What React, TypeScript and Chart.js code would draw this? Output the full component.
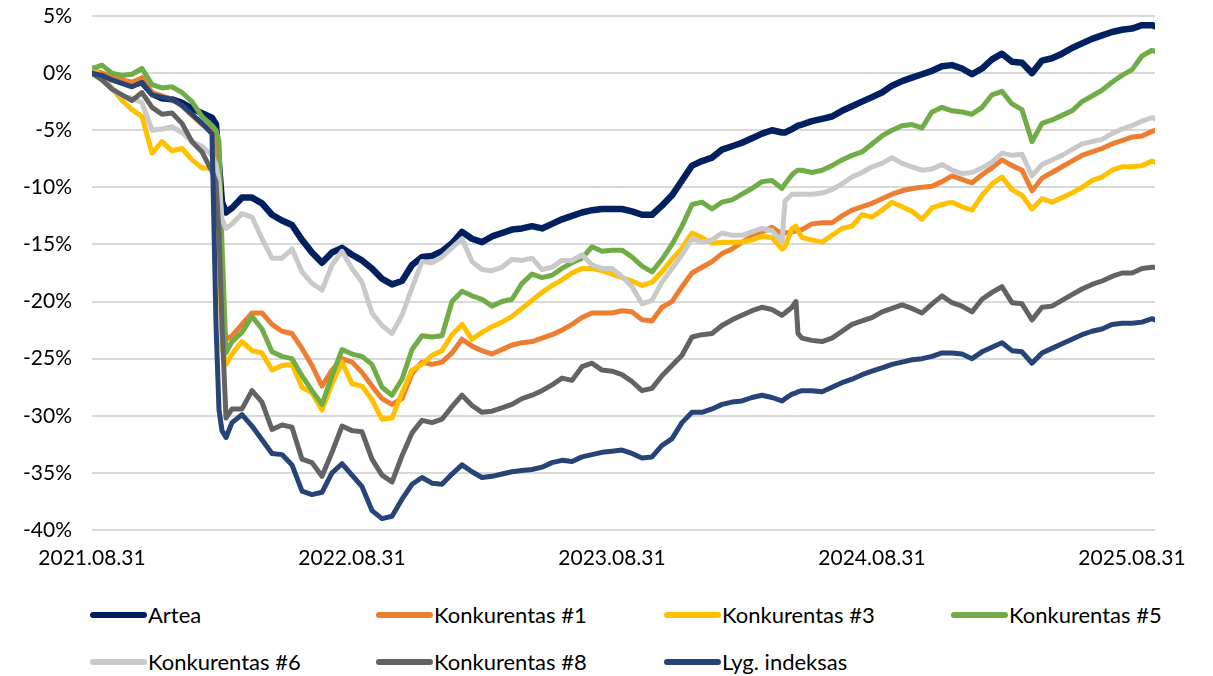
import React, { useEffect, useRef } from 'react';
import { Chart, registerables } from 'chart.js';

Chart.register(...registerables);

// trading-day index from 2021.08.31
const DAYS = [
  0, 10, 20, 30, 40, 50, 60, 70, 80, 90, 100, 110, 120, 124, 127, 130, 134,
  140, 150, 160, 170, 180, 190, 200, 210, 220, 230, 240, 250, 260, 270, 280, 290,
  300, 310, 320, 330, 340, 350, 360, 370, 380, 390, 400, 410, 420, 430, 440, 450,
  460, 470, 480, 490, 500, 510, 520, 530, 540, 550, 560, 570, 580, 590, 600, 610,
  620, 630, 640, 650, 660, 670, 680, 690, 693, 700, 704, 706, 710, 720, 730, 740,
  750, 760, 770, 780, 790, 800, 810, 820, 830, 840, 850, 860, 870, 880, 890, 900,
  910, 920, 930, 940, 950, 960, 970, 980, 990, 1000, 1010, 1020, 1030, 1040, 1050,
  1060, 1063,
];

const X_TICKS = [0, 260, 520, 780, 1040];
const X_TICK_LABELS = ['2021.08.31', '2022.08.31', '2023.08.31', '2024.08.31', '2025.08.31'];
const Y_MIN = -40;
const Y_MAX = 5;
const Y_STEP = 5;

const SERIES_NAMES = [
  'Artea',
  'Konkurentas #1',
  'Konkurentas #3',
  'Konkurentas #5',
  'Konkurentas #6',
  'Konkurentas #8',
  'Lyg. indeksas',
];

const ARTEA = [
  0, -0.2, -0.5, -0.8, -1.0, -0.8, -1.8, -2.2, -2.3, -2.6, -3.1, -3.5, -3.9, -4.5, -8.0, -11.3, -12.2,
  -11.8, -10.9, -10.9, -11.4, -12.4, -12.9, -13.3, -14.6, -15.7, -16.6, -15.7, -15.3, -15.9, -16.4, -17.1, -18.0,
  -18.5, -18.2, -16.8, -16.1, -16.0, -15.6, -14.9, -13.9, -14.5, -14.8, -14.3, -14.0, -13.7, -13.6, -13.4, -13.6,
  -13.2, -12.8, -12.5, -12.2, -12.0, -11.9, -11.9, -11.9, -12.1, -12.4, -12.4, -11.6, -10.7, -9.4, -8.1, -7.7,
  -7.4, -6.7, -6.4, -6.1, -5.7, -5.3, -5.0, -5.2, -5.2, -4.9, -4.7, -4.6, -4.5, -4.2, -4.0, -3.8,
  -3.3, -2.9, -2.5, -2.1, -1.7, -1.1, -0.7, -0.4, -0.1, 0.2, 0.6, 0.7, 0.4, -0.1, 0.4, 1.2,
  1.7, 1.0, 0.9, 0.0, 1.1, 1.3, 1.7, 2.2, 2.6, 3.0, 3.3, 3.6, 3.8, 3.9, 4.2,
  4.2, 4.1,
];

const KONK_1 = [
  0.3, 0.0, -0.3, -0.6, -0.8, -0.4, -1.7, -2.0, -2.3, -2.9, -3.7, -4.5, -5.0, -5.5, -10.0, -22.0, -23.3,
  -23.0, -22.0, -21.0, -21.0, -22.0, -22.6, -22.8, -24.1, -25.6, -27.4, -26.0, -25.0, -25.3, -26.2, -27.4, -28.5,
  -29.0, -28.5, -26.3, -25.3, -25.5, -25.3, -24.5, -23.3, -23.9, -24.3, -24.6, -24.2, -23.8, -23.6, -23.5, -23.2,
  -22.9, -22.5, -22.0, -21.4, -21.0, -21.0, -21.0, -20.8, -20.9, -21.6, -21.7, -20.5, -20.0, -18.7, -17.5, -17.0,
  -16.5, -15.8, -15.4, -14.8, -14.3, -13.9, -13.5, -14.1, -14.0, -13.9, -13.8, -13.8, -13.7, -13.2, -13.1, -13.1,
  -12.5, -12.0, -11.7, -11.4, -11.0, -10.6, -10.3, -10.1, -10.0, -9.9, -9.5, -9.0, -9.3, -9.6, -8.9, -8.3,
  -7.6, -8.1, -8.5, -10.3, -9.2, -8.7, -8.2, -7.7, -7.2, -6.9, -6.6, -6.2, -5.9, -5.6, -5.5,
  -5.1, -5.0,
];

const KONK_3 = [
  0.5, -0.3, -1.3, -2.4, -3.2, -3.8, -7.0, -6.0, -6.8, -6.6, -7.6, -8.3, -8.3, -9.0, -14.0, -24.0, -25.5,
  -24.6, -23.5, -24.3, -24.5, -26.0, -25.6, -25.5, -27.5, -28.0, -29.5, -27.2, -25.3, -27.2, -27.4, -28.6, -30.3,
  -30.2, -28.0, -26.0, -25.5, -24.7, -24.3, -22.9, -22.0, -23.3, -22.7, -22.2, -21.8, -21.3, -20.6, -19.9, -19.2,
  -18.6, -18.1, -17.5, -17.1, -17.1, -17.3, -17.6, -17.9, -18.2, -18.6, -18.3, -17.4, -16.3, -15.3, -14.0, -14.4,
  -14.9, -14.8, -14.8, -14.8, -14.6, -14.3, -14.4, -15.4, -15.2, -13.6, -13.4, -13.8, -14.4, -14.6, -14.8, -14.2,
  -13.6, -13.4, -12.4, -12.6, -12.0, -11.3, -11.7, -12.1, -12.8, -11.8, -11.5, -11.3, -11.7, -12.0, -10.7, -9.7,
  -9.1, -10.2, -10.7, -11.9, -11.0, -11.3, -10.9, -10.5, -10.0, -9.4, -9.1, -8.5, -8.2, -8.2, -8.1,
  -7.7, -7.8,
];

const KONK_5 = [
  0.4, 0.7, 0.0, -0.2, -0.1, 0.4, -1.0, -1.3, -1.2, -1.7, -2.5, -3.8, -4.6, -5.0, -6.0, -15.0, -24.5,
  -23.5, -22.7, -21.3, -22.4, -24.4, -24.8, -25.0, -26.5, -27.8, -29.0, -26.5, -24.2, -24.6, -24.8, -25.5, -27.5,
  -28.2, -26.8, -24.2, -23.0, -23.1, -23.0, -20.0, -19.1, -19.5, -19.8, -20.4, -20.0, -19.8, -18.4, -17.6, -17.9,
  -17.7, -17.1, -16.6, -16.2, -15.2, -15.6, -15.5, -15.5, -16.1, -16.9, -17.4, -16.3, -15.0, -13.4, -11.5, -11.3,
  -11.9, -11.3, -11.1, -10.6, -10.1, -9.5, -9.4, -10.1, -9.7, -8.9, -8.6, -8.5, -8.5, -8.7, -8.5, -8.1,
  -7.6, -7.2, -6.9, -6.2, -5.5, -5.0, -4.6, -4.5, -4.8, -3.4, -3.0, -3.3, -3.4, -3.6, -3.0, -1.9,
  -1.6, -2.7, -3.2, -6.0, -4.4, -4.1, -3.7, -3.3, -2.5, -2.0, -1.5, -0.8, -0.2, 0.3, 1.5,
  2.0, 1.9,
];

const KONK_6 = [
  0.1, -0.4, -1.4, -2.0, -2.2, -2.6, -5.0, -4.9, -4.7, -5.2, -6.0, -6.4, -7.2, -8.0, -9.5, -12.8, -13.6,
  -13.2, -12.3, -12.6, -14.5, -16.2, -16.2, -15.4, -17.4, -18.4, -19.0, -16.8, -15.6, -17.1, -18.3, -21.0, -22.1,
  -22.8, -21.2, -18.8, -16.5, -16.6, -16.1, -15.3, -14.5, -16.5, -17.2, -17.3, -17.0, -16.3, -16.4, -16.2, -17.2,
  -17.0, -16.4, -16.4, -15.9, -16.8, -17.1, -17.1, -17.8, -18.7, -20.2, -19.9, -18.3, -17.1, -15.9, -14.5, -14.8,
  -14.6, -14.0, -14.2, -14.2, -13.9, -13.6, -13.8, -14.8, -11.2, -10.6, -10.6, -10.6, -10.6, -10.6, -10.5, -10.2,
  -9.7, -9.1, -8.7, -8.2, -7.9, -7.4, -7.9, -8.2, -8.5, -8.4, -8.0, -8.5, -8.8, -8.7, -8.3, -7.8,
  -7.0, -7.2, -7.1, -9.0, -8.0, -7.6, -7.2, -6.7, -6.2, -6.0, -5.8, -5.3, -4.9, -4.6, -4.2,
  -3.9, -4.0,
];

const KONK_8 = [
  0, -0.6, -1.4, -1.9, -2.4, -1.7, -3.0, -3.6, -3.5, -4.4, -6.0, -6.9, -8.6, -9.5, -14.0, -22.0, -30.2,
  -29.4, -29.4, -27.8, -28.8, -31.2, -30.8, -31.0, -33.8, -34.1, -35.3, -33.2, -30.9, -31.3, -31.4, -33.8, -35.2,
  -35.8, -33.5, -31.5, -30.4, -30.6, -30.3, -29.2, -28.2, -29.1, -29.7, -29.6, -29.3, -29.0, -28.5, -28.2, -27.8,
  -27.3, -26.7, -26.9, -25.7, -25.4, -26.0, -26.1, -26.4, -27.0, -27.8, -27.6, -26.5, -25.6, -24.7, -23.1, -22.9,
  -22.8, -22.1, -21.6, -21.2, -20.8, -20.5, -20.7, -21.2, -21.0, -20.5, -20.0, -22.8, -23.2, -23.4, -23.5, -23.2,
  -22.6, -22.0, -21.7, -21.4, -20.9, -20.6, -20.3, -20.6, -21.0, -20.2, -19.5, -20.1, -20.4, -20.9, -19.8, -19.2,
  -18.7, -20.1, -20.2, -21.6, -20.5, -20.4, -19.9, -19.4, -18.9, -18.5, -18.2, -17.8, -17.5, -17.5, -17.1,
  -17.0, -17.0,
];

const LYG_INDEKSAS = [
  0, -0.2, -0.6, -0.9, -1.2, -0.8, -1.9, -2.1, -2.3, -2.8, -3.6, -4.4, -5.3, -22.0, -29.5, -31.3, -31.9,
  -30.6, -29.9, -30.9, -32.1, -33.3, -33.4, -34.3, -36.6, -36.9, -36.7, -35.0, -34.2, -35.2, -36.2, -38.3, -39.0,
  -38.8, -37.3, -36.0, -35.4, -35.9, -36.0, -35.1, -34.3, -34.9, -35.4, -35.3, -35.1, -34.9, -34.8, -34.7, -34.5,
  -34.1, -33.9, -34.0, -33.6, -33.4, -33.2, -33.1, -33.0, -33.3, -33.7, -33.6, -32.6, -32.0, -30.6, -29.7, -29.7,
  -29.4, -29.0, -28.8, -28.7, -28.4, -28.2, -28.4, -28.7, -28.5, -28.1, -28.0, -27.9, -27.8, -27.8, -27.9, -27.5,
  -27.1, -26.8, -26.4, -26.1, -25.8, -25.5, -25.3, -25.1, -25.0, -24.8, -24.5, -24.5, -24.6, -25.0, -24.4, -24.0,
  -23.6, -24.3, -24.4, -25.4, -24.5, -24.1, -23.7, -23.3, -22.9, -22.6, -22.4, -22.0, -21.9, -21.9, -21.8,
  -21.5, -21.6,
];

const COLORS = ['#002060', '#ED7D31', '#FFC000', '#70AD47', '#C9C9C9', '#636363', '#264478'];
const WIDTHS = [6.5, 5, 5, 5, 5, 5, 5];

const FONT = 'Lato, "Open Sans", sans-serif';

const LEGEND_COLS = [90, 376, 664, 951];
const LEGEND_ROWS = [615, 662];

export default function App() {
  const ref = useRef<HTMLCanvasElement>(null);

  useEffect(() => {
    if (!ref.current) return;
    const series = [ARTEA, KONK_1, KONK_3, KONK_5, KONK_6, KONK_8, LYG_INDEKSAS];
    const chart = new Chart(ref.current, {
      type: 'line',
      data: {
        datasets: series.map((s, i) => ({
          label: SERIES_NAMES[i],
          data: s.map((v, j) => ({ x: DAYS[j], y: v })),
          borderColor: COLORS[i],
          backgroundColor: COLORS[i],
          borderWidth: WIDTHS[i],
          pointRadius: 0,
          pointHoverRadius: 0,
          tension: 0,
          fill: false,
          order: series.length - i,
          borderJoinStyle: 'round' as const,
          borderCapStyle: 'round' as const,
        })),
      },
      options: {
        responsive: false,
        animation: false,
        layout: { padding: { top: 0, right: 58, bottom: 0, left: 0 } },
        plugins: {
          legend: { display: false },
          tooltip: { enabled: false },
        },
        scales: {
          x: {
            type: 'linear',
            min: 0,
            max: DAYS[DAYS.length - 1],
            grid: { display: false },
            border: { display: false },
            afterBuildTicks: (scale: any) => {
              scale.ticks = X_TICKS.map((v) => ({ value: v }));
            },
            afterFit: (scale: any) => {
              scale.height = 60;
            },
            ticks: {
              autoSkip: false,
              maxRotation: 0,
              padding: 8,
              color: '#000',
              font: { family: FONT, size: 21 },
              callback: (v: any) => {
                const idx = X_TICKS.indexOf(Number(v));
                return idx >= 0 ? X_TICK_LABELS[idx] : '';
              },
            },
          },
          y: {
            min: Y_MIN,
            max: Y_MAX,
            grid: { color: '#D9D9D9', lineWidth: 2, drawTicks: false },
            border: { display: false },
            afterFit: (scale: any) => {
              scale.width = 92;
              scale.paddingTop = 16;
              scale.paddingBottom = 0;
            },
            ticks: {
              stepSize: Y_STEP,
              padding: 20,
              color: '#000',
              font: { family: FONT, size: 21 },
              callback: (v: any) => `${v}%`,
            },
          },
        },
      },
    });
    return () => chart.destroy();
  }, []);

  const legendItems = SERIES_NAMES.map((name, i) => {
    const col = LEGEND_COLS[i % 4];
    const row = LEGEND_ROWS[Math.floor(i / 4)];
    return (
      <div key={name}>
        <div
          style={{
            position: 'absolute',
            left: col,
            top: row - 3,
            width: 57,
            height: 6,
            borderRadius: 3,
            background: COLORS[i],
          }}
        />
        <div
          style={{
            position: 'absolute',
            left: col + 58,
            top: row - 14,
            height: 28,
            lineHeight: '28px',
            fontFamily: FONT,
            fontSize: 22,
            color: '#000',
            whiteSpace: 'nowrap',
          }}
        >
          {name}
        </div>
      </div>
    );
  });

  return (
    <div
      style={{
        position: 'fixed',
        left: 0,
        top: 0,
        width: 1213,
        height: 676,
        background: '#fff',
        overflow: 'hidden',
      }}
    >
      <canvas ref={ref} width={1213} height={590} style={{ display: 'block' }} />
      {legendItems}
    </div>
  );
}
